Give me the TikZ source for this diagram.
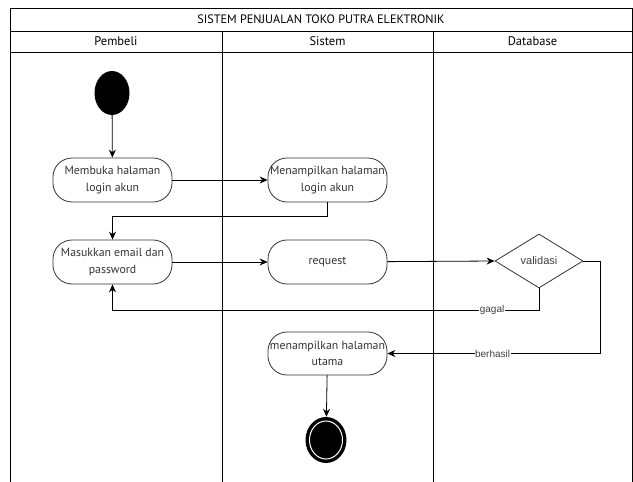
\documentclass[tikz,border=0pt]{standalone}
\usepackage{fontspec}
\setmainfont{PT Sans}
\newfontfamily\arialfont{Liberation Sans}
\usetikzlibrary{shapes.geometric,arrows.meta}

\tikzset{
  lane/.style={draw=black, line width=0.8pt},
  act/.style={draw=black!80, line width=0.8pt, rounded corners=19pt, fill=white,
    minimum width=119pt, minimum height=44pt, align=center, inner sep=0.5pt,
    font=\fontsize{11.8}{16.5}\selectfont, text=black!80},
  choice/.style={diamond, draw=black!80, line width=0.8pt, fill=white,
    minimum width=88pt, minimum height=54pt, aspect=1.6, inner sep=0pt,
    font=\arialfont\fontsize{11}{13}\selectfont, text=black!75},
  flow/.style={draw=black, line width=0.8pt, -{Stealth[length=8pt,width=7pt]}},
  tag/.style={fill=white, inner sep=0.5pt, font=\arialfont\fontsize{10}{12}\selectfont, text=black!75}
}

\begin{document}
\begin{tikzpicture}[x=1pt, y=-1pt]

\useasboundingbox (0,0) rectangle (633,482);

% swimlanes
\draw[lane] (10,8) rectangle (632,482);
\draw[lane] (10,31) -- (632,31);
\draw[lane] (10,52) -- (632,52);
\foreach \lx in {222,433}{%
  \draw[lane] (\lx,31) -- (\lx,482);
}
\node[font=\fontsize{12.2}{15}\selectfont] (judul) at (321,19.5) {SISTEM PENJUALAN TOKO PUTRA ELEKTRONIK};
\node[font=\fontsize{12.5}{15}\selectfont] (pembeli) at (116,41.5) {Pembeli};
\node[font=\fontsize{12.5}{15}\selectfont] (sistem) at (327.5,41.5) {Sistem};
\node[font=\fontsize{12.5}{15}\selectfont] (database) at (532.5,41.5) {Database};

% nodes
\node[ellipse, fill=black, minimum width=35pt, minimum height=44pt, inner sep=0pt] (mulai) at (112,93) {};
\node[act] (membuka) at (112.5,180) {Membuka halaman\\login akun};
\node[act] (tampillogin) at (327.5,180) {Menampilkan halaman\\login akun};
\node[act] (masukkan) at (112.5,262) {Masukkan email dan\\password};
\node[act] (request) at (327.5,262) {request};
\node[choice] (validasi) at (539,261) {validasi};
\node[act, minimum height=43pt] (utama) at (327.5,353.5) {menampilkan halaman\\utama};
\node[ellipse, fill=black, minimum width=41pt, minimum height=46pt, inner sep=0pt] (selesai) at (326,440) {};
\node[ellipse, fill=black, draw=white, line width=1pt, minimum width=33pt, minimum height=38pt, inner sep=0pt] (selesaiin) at (326,440) {};

% connectors
\draw[flow] (mulai) -- (membuka);
\draw[flow] (membuka) -- (tampillogin);
\draw[flow] (tampillogin.south) -- ++(0,14) -| (masukkan.north);
\draw[flow] (masukkan) -- (request);
\draw[flow] (request) -- (validasi.west);
\draw[flow] (validasi.south) |- (masukkan.south |- 0,310) node[tag, pos=0.555] {gagal} -- (masukkan.south);
\draw[flow] (validasi.east) -- ++(17,0) |- (utama.east) node[tag, pos=0.753] {berhasil};
\draw[flow] (utama) -- (selesai);

\end{tikzpicture}
\end{document}
